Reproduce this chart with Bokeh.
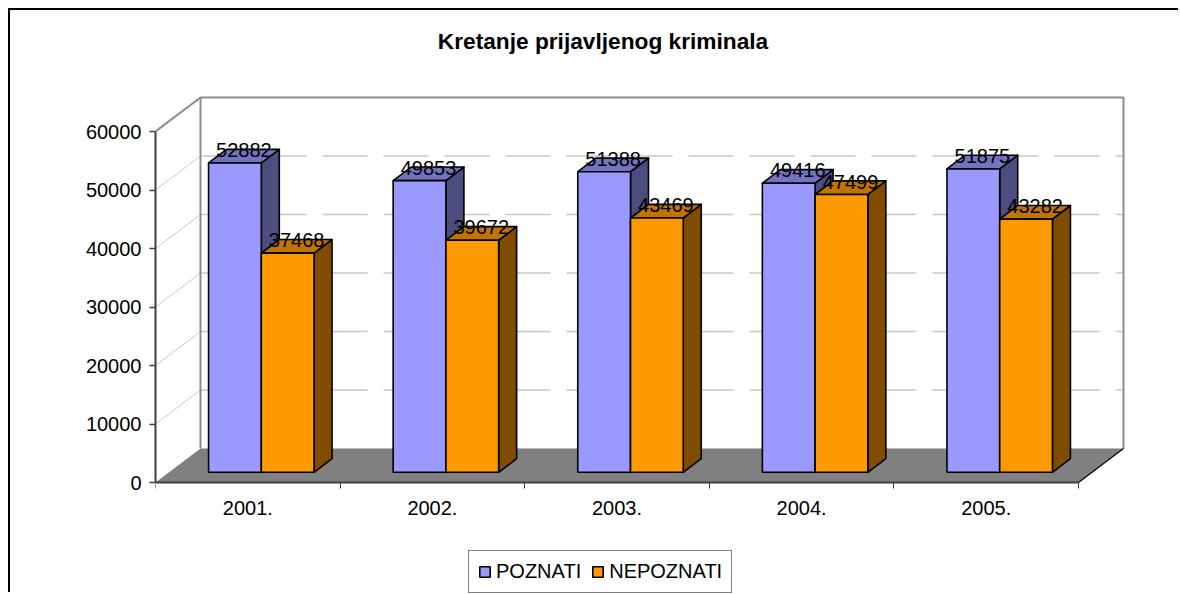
from bokeh.plotting import figure
from bokeh.models import Range1d, FixedTicker, NumeralTickFormatter, Legend, LegendItem, ColumnDataSource
from bokeh.core.properties import value
from bokeh.embed import file_html
from bokeh.resources import INLINE

# ---------------- data ----------------
title_text = "Kretanje prijavljenog kriminala"
categories = ["2001.", "2002.", "2003.", "2004.", "2005."]
poznati = [52882, 49853, 51388, 49416, 51875]
nepoznati = [37468, 39672, 43469, 47499, 43282]
series_names = ["POZNATI", "NEPOZNATI"]
y_ticks = [0, 10000, 20000, 30000, 40000, 50000, 60000]

# ---------------- styling / geometry ----------------
FONT = "Liberation Sans"
YMAX = 60000
CAT_PX = 184.6               # pixels per category
VAL_PX = 351 / YMAX          # pixels per value unit
DX = 45 / CAT_PX             # depth offset along x (category units)
DY = 34 / VAL_PX             # depth offset along y (value units)
D0, D1 = 0.3, 0.7            # bar front / back depth fraction
BAR_W = 1 / 3.5              # bar width (category units)
front_cols = ["#9999FF", "#FF9900"]
top_cols = ["#7373C2", "#C27400"]
side_cols = ["#4D4D80", "#7F4C00"]

W, H = 1170, 584
LEFT = 145
n = len(categories)
x0, x1 = -0.5, n - 0.5

p = figure(width=W, height=H, output_backend="svg", toolbar_location=None,
           x_range=Range1d(x0, x0 + (W - LEFT) / CAT_PX),
           y_range=Range1d(-112 / VAL_PX, 472 / VAL_PX),
           min_border_left=LEFT, min_border_right=0, min_border_top=0, min_border_bottom=0)
p.styles = {"margin-left": "8px", "margin-top": "8px",
            "border-left": "2px solid black", "border-top": "2px solid black"}
p.outline_line_color = None
p.xgrid.visible = False
p.ygrid.visible = False
p.background_fill_color = "white"
p.border_fill_color = "white"

# ---------------- walls & grid ----------------
grid_vals = [v for v in y_ticks if 0 < v < YMAX]
p.segment(x0=[x0 + DX] * len(grid_vals), x1=[x1 + DX] * len(grid_vals),
          y0=[v + DY for v in grid_vals], y1=[v + DY for v in grid_vals],
          line_color="#C8C8C8", line_width=1.5, line_dash="45 16")
p.segment(x0=[x0] * len(grid_vals), x1=[x0 + DX] * len(grid_vals),
          y0=grid_vals, y1=[v + DY for v in grid_vals],
          line_color="#C8C8C8", line_width=1)
p.line(x=[x0, x0 + DX, x1 + DX, x1 + DX], y=[YMAX, YMAX + DY, YMAX + DY, DY],
       line_color="#8C8C8C", line_width=2)
p.line(x=[x0 + DX, x0 + DX], y=[DY, YMAX + DY], line_color="#8C8C8C", line_width=2)
p.patch(x=[x0, x1, x1 + DX, x0 + DX], y=[0, 0, DY, DY], fill_color="#808080", line_color=None)
p.line(x=[x1, x1 + DX], y=[0, DY], line_color="black", line_width=1.2)

# ---------------- bars ----------------
front_renderers = []
for s, vals in enumerate([poznati, nepoznati]):
    lefts = [i - BAR_W + s * BAR_W for i in range(n)]
    rights = [l + BAR_W for l in lefts]
    xs, ys, cols = [], [], []
    for L, R, v in zip(lefts, rights, vals):
        xs.append([R + D0 * DX, R + D1 * DX, R + D1 * DX, R + D0 * DX])
        ys.append([D0 * DY, D1 * DY, v + D1 * DY, v + D0 * DY])
        cols.append(side_cols[s])
        xs.append([L + D0 * DX, R + D0 * DX, R + D1 * DX, L + D1 * DX])
        ys.append([v + D0 * DY, v + D0 * DY, v + D1 * DY, v + D1 * DY])
        cols.append(top_cols[s])
    p.patches(xs=xs, ys=ys, fill_color=cols, line_color="black", line_width=1.6, line_join="round")
    src = ColumnDataSource(dict(left=[l + D0 * DX for l in lefts], right=[r + D0 * DX for r in rights],
                                bottom=[D0 * DY] * n, top=[v + D0 * DY for v in vals]))
    r = p.quad(left="left", right="right", bottom="bottom", top="top", source=src,
               fill_color=front_cols[s], line_color="black", line_width=1.6)
    front_renderers.append(r)

# data labels
for s, vals in enumerate([poznati, nepoznati]):
    cx = [i - BAR_W / 2 + s * BAR_W + 0.5 * DX for i in range(n)]
    cy = [v + 0.5 * DY for v in vals]
    p.text(x=cx, y=cy, text=[str(v) for v in vals], text_align="center", text_baseline="alphabetic",
           y_offset=-6, text_font=value(FONT), text_font_size="20px", text_color="black")

# title
p.text(x=[(x0 + x1) / 2], y=[YMAX + DY], text=[title_text], x_offset=-14, y_offset=-57,
       text_align="center", text_baseline="middle", text_font=value(FONT),
       text_font_size="22.7px", text_font_style="bold", text_color="black")

# ---------------- axes ----------------
yax = p.yaxis[0]
yax.ticker = FixedTicker(ticks=y_ticks)
yax.formatter = NumeralTickFormatter(format="0")
yax.bounds = (0, YMAX)
yax.axis_line_color = "#404040"
yax.axis_line_width = 2
yax.major_tick_line_color = "#404040"
yax.major_tick_line_width = 1.5
yax.major_tick_out = 6
yax.major_tick_in = 0
yax.minor_tick_line_color = None
yax.major_label_text_font = FONT
yax.major_label_text_font_size = "20px"
yax.major_label_text_color = "black"
yax.major_label_standoff = 8

xax = p.xaxis[0]
xax.fixed_location = 0
xax.ticker = FixedTicker(ticks=list(range(n)), minor_ticks=[i - 0.5 for i in range(n + 1)])
xax.major_label_overrides = {i: c for i, c in enumerate(categories)}
xax.bounds = (x0, x1)
xax.axis_line_color = "#404040"
xax.axis_line_width = 2
xax.major_tick_line_color = None
xax.major_tick_out = 0
xax.major_tick_in = 0
xax.minor_tick_line_color = "#404040"
xax.minor_tick_out = 6
xax.minor_tick_in = 0
xax.major_label_text_font = FONT
xax.major_label_text_font_size = "20px"
xax.major_label_text_color = "black"
xax.major_label_standoff = 12

# ---------------- legend ----------------
legend = Legend(items=[LegendItem(label=series_names[s], renderers=[front_renderers[s]]) for s in range(2)],
                orientation="horizontal", location=(313, 1))
legend.label_text_font = FONT
legend.label_text_font_size = "20px"
legend.label_text_color = "black"
legend.glyph_width = 13
legend.glyph_height = 13
legend.label_standoff = 5
legend.spacing = 10
legend.padding = 9
legend.margin = 0
legend.border_line_color = "black"
legend.border_line_width = 1
legend.background_fill_color = "white"
legend.background_fill_alpha = 1
p.add_layout(legend, "center")

open("out.html", "w").write(file_html(p, INLINE))
